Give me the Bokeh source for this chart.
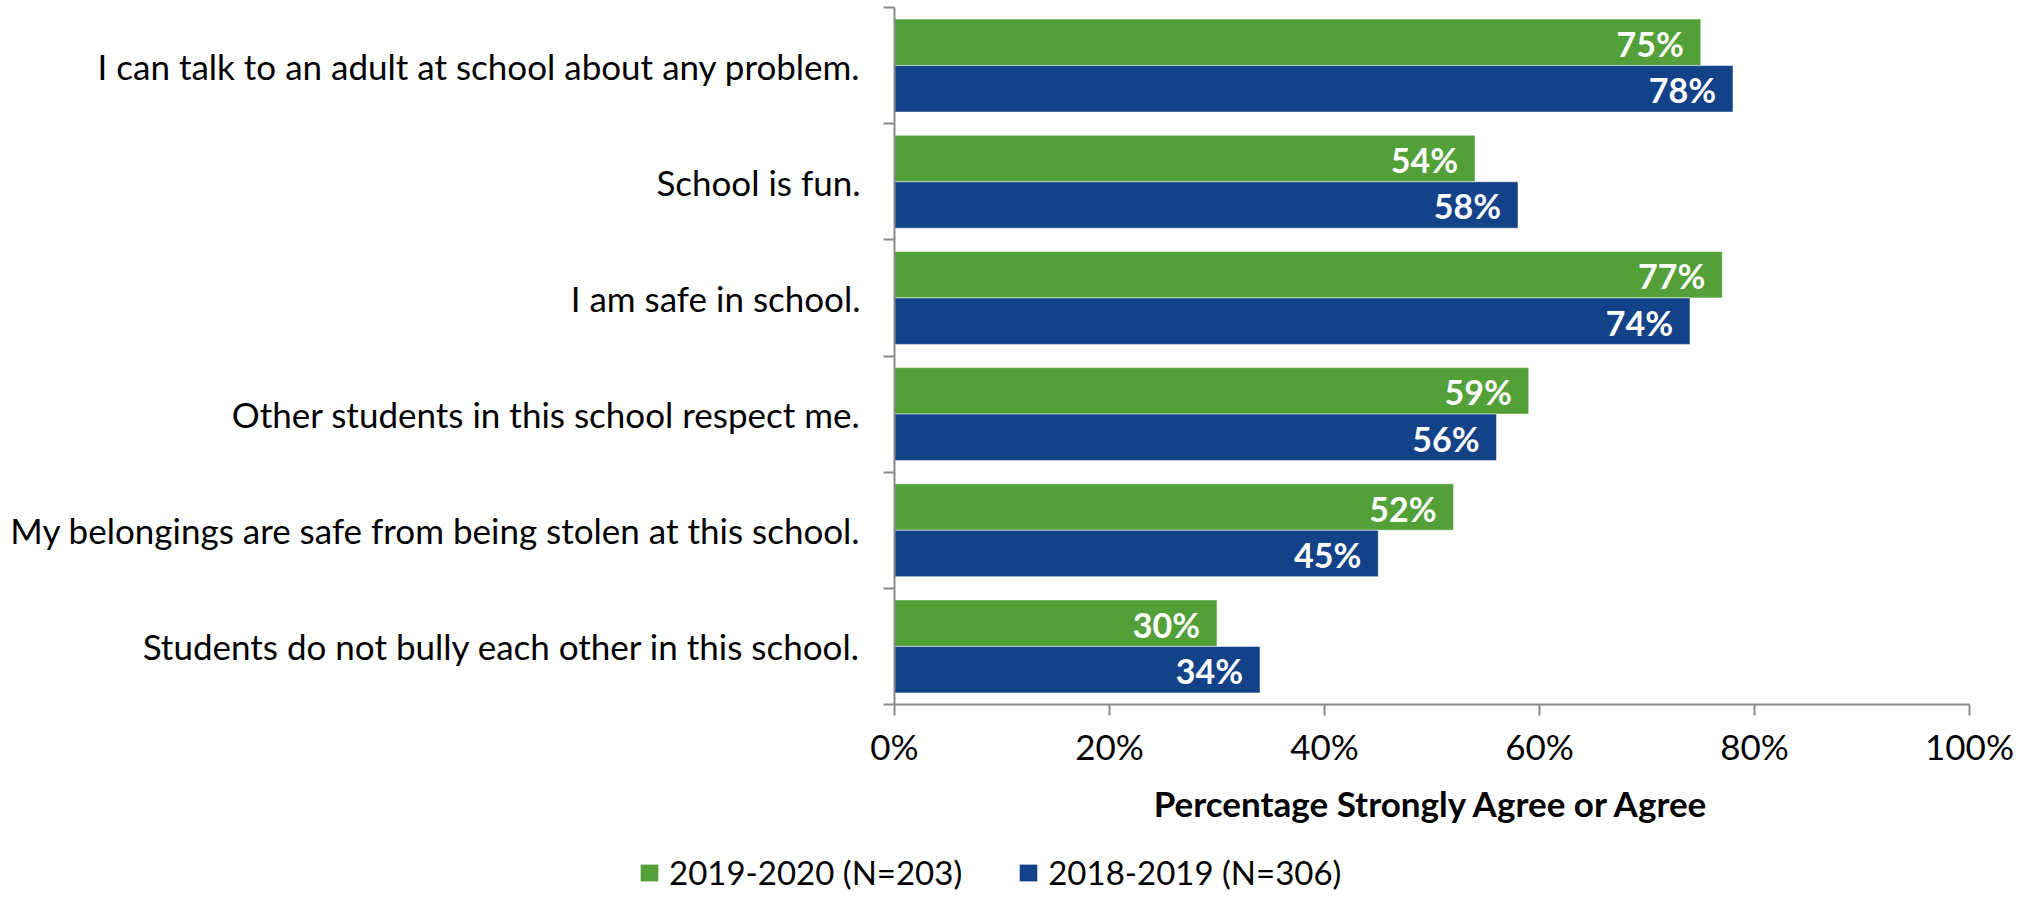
from bokeh.plotting import figure
from bokeh.layouts import column
from bokeh.models import (Range1d, FixedTicker, PrintfTickFormatter, ColumnDataSource,
                          Legend, LegendItem)
from bokeh.core.properties import value
from bokeh.embed import file_html
from bokeh.resources import INLINE

# ---- data ----
categories = [
    "I can talk to an adult at school about any problem.",
    "School is fun.",
    "I am safe in school.",
    "Other students in this school respect me.",
    "My belongings are safe from being stolen at this school.",
    "Students do not bully each other in this school.",
]
values_2019_2020 = [75, 54, 77, 59, 52, 30]
values_2018_2019 = [78, 58, 74, 56, 45, 34]
series_names = ["2019-2020 (N=203)", "2018-2019 (N=306)"]
x_ticks = [0, 20, 40, 60, 80, 100]
x_title = "Percentage Strongly Agree or Agree"

GREEN = "#53A038"
BLUE = "#144289"
AXIS = "#898989"
FONT = "Lato"

n = len(categories)
centers = [n - i - 0.5 for i in range(n)]

src_a = ColumnDataSource(dict(
    y=[c + 0.2 for c in centers], v=values_2019_2020,
    lab=[f"{v}%" for v in values_2019_2020]))
src_b = ColumnDataSource(dict(
    y=[c - 0.2 for c in centers], v=values_2018_2019,
    lab=[f"{v}%" for v in values_2018_2019]))

p = figure(output_backend="svg", toolbar_location=None,
           frame_width=1075, frame_height=697,
           min_border_left=894, min_border_right=46,
           min_border_top=7, min_border_bottom=146,
           x_range=Range1d(0, 100), y_range=Range1d(0, n))
p.outline_line_color = None
p.xgrid.visible = False
p.ygrid.visible = False
p.background_fill_color = "white"
p.border_fill_color = "white"

bar_style = dict(line_color="white", line_alpha=0.5, line_width=1)
p.hbar(y="y", left=0, right="v", height=0.4, source=src_a, fill_color=GREEN, **bar_style)
p.hbar(y="y", left=0, right="v", height=0.4, source=src_b, fill_color=BLUE, **bar_style)

for s in (src_a, src_b):
    p.text(x="v", y="y", text="lab", source=s, x_offset=-17, y_offset=1,
           text_align="right", text_baseline="middle",
           text_color="white", text_font=value(FONT), text_font_style="bold",
           text_font_size="34px")

# x axis
xa = p.xaxis[0]
xa.ticker = FixedTicker(ticks=x_ticks)
xa.formatter = PrintfTickFormatter(format="%d%%")
xa.axis_line_color = AXIS
xa.axis_line_width = 2
xa.major_tick_line_color = AXIS
xa.major_tick_line_width = 2
xa.major_tick_out = 11
xa.major_tick_in = 0
xa.minor_tick_line_color = None
xa.major_label_text_font = FONT
xa.major_label_text_font_size = "35px"
xa.major_label_text_color = "black"
xa.major_label_standoff = 9
xa.axis_label = x_title
xa.axis_label_text_font = FONT
xa.axis_label_text_font_size = "35px"
xa.axis_label_text_font_style = "bold"
xa.axis_label_text_color = "black"
xa.axis_label_standoff = 12

# y axis
ya = p.yaxis[0]
ya.ticker = FixedTicker(ticks=centers, minor_ticks=list(range(n + 1)))
ya.major_label_overrides = {c: lab for c, lab in zip(centers, categories)}
ya.axis_line_color = AXIS
ya.axis_line_width = 2
ya.major_tick_line_color = None
ya.major_tick_out = 0
ya.major_tick_in = 0
ya.minor_tick_line_color = AXIS
ya.minor_tick_line_width = 2
ya.minor_tick_out = 11
ya.minor_tick_in = 0
ya.major_label_text_font = FONT
ya.major_label_text_font_size = "35px"
ya.major_label_text_color = "black"
ya.major_label_standoff = 23

# legend strip (separate figure so the legend is not clipped by the main frame);
# its bars use the same data but fall outside this strip's x range, so only
# the legend swatches show.
lf = figure(output_backend="svg", toolbar_location=None,
            frame_width=2015, frame_height=42,
            min_border_left=0, min_border_right=0, min_border_top=0, min_border_bottom=0,
            x_axis_type=None, y_axis_type=None,
            x_range=Range1d(-2, -1), y_range=Range1d(0, n))
lf.outline_line_color = None
lf.xgrid.visible = False
lf.ygrid.visible = False
lf.background_fill_color = "white"
lf.border_fill_color = "white"
la = lf.hbar(y="y", left=0, right="v", height=0.4, source=src_a,
             fill_color=GREEN, line_color=None)
lb = lf.hbar(y="y", left=0, right="v", height=0.4, source=src_b,
             fill_color=BLUE, line_color=None)

legend = Legend(items=[LegendItem(label=series_names[0], renderers=[la]),
                       LegendItem(label=series_names[1], renderers=[lb])],
                orientation="horizontal", location=(638, 0),
                glyph_width=22, glyph_height=21, label_standoff=9,
                spacing=55, padding=0, margin=0,
                border_line_color=None, background_fill_alpha=0,
                label_text_font=FONT, label_text_font_size="33px",
                label_text_color="black")
lf.add_layout(legend, "center")

layout = column(p, lf, spacing=0)
open("out.html", "w").write(file_html(layout, INLINE))
